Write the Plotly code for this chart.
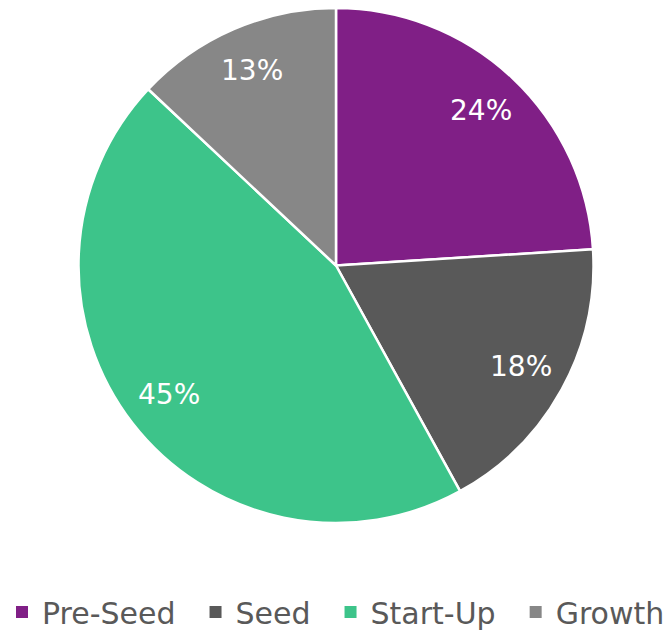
import math
import plotly.graph_objects as go

stages = ["Pre-Seed", "Seed", "Start-Up", "Growth"]
shares = [24, 18, 45, 13]
colors = ["#801f86", "#595959", "#3dc48a", "#878787"]

# figure is a bit wider than the window so the one-row legend is not wrapped
W, H, B = 700, 632, 50
PH = H - B  # plot-area height in px
# pie placement in pixels (page has an 8px body offset)
CX, CY, R = 328, 257, 258
LABEL_R = 0.83
FONT = "DejaVu Sans"

fig = go.Figure(go.Pie(
    labels=stages, values=shares,
    sort=False, direction="clockwise", rotation=0,
    marker=dict(colors=colors, line=dict(color="#ffffff", width=2.5)),
    textinfo="none", showlegend=False,
    domain=dict(x=[(CX - R) / W, (CX + R) / W], y=[1 - (CY + R) / PH, 1]),
    hoverinfo="label+percent",
))

# legend entries: plain square swatches (the pie's own swatches get eaten by the white border)
# en space after each name (but the last) widens the gap between entries
for i, (name, c) in enumerate(zip(stages, colors)):
    pad = "\u2002" if i < len(stages) - 1 else ""
    fig.add_trace(go.Scatter(
        x=[None], y=[None], mode="markers", name=name + pad,
        marker=dict(symbol="square", size=12, color=c), hoverinfo="skip",
    ))

# percent labels at a fixed fraction of the radius, on each slice's mid-angle
total = sum(shares)
cum = 0
for v in shares:
    mid = (cum + v / 2) / total * 2 * math.pi
    cum += v
    r_px = R * 0.988 * LABEL_R
    x = (CX + r_px * math.sin(mid)) / W
    y = 1 - (CY - r_px * math.cos(mid)) / PH
    fig.add_annotation(x=x, y=y, xref="paper", yref="paper",
                       xanchor="center", yanchor="middle",
                       text=f"{round(v / total * 100)}%", showarrow=False,
                       font=dict(size=28, color="#ffffff", family=FONT))

fig.update_layout(
    width=W, height=H,
    margin=dict(l=0, r=0, t=0, b=B, autoexpand=False),
    paper_bgcolor="#ffffff", plot_bgcolor="rgba(0,0,0,0)",
    xaxis=dict(visible=False), yaxis=dict(visible=False),
    showlegend=True,
    legend=dict(orientation="h", x=-6 / W, xanchor="left", y=1 - 604 / PH, yanchor="middle",
                font=dict(size=30, color="#595959", family=FONT),
                itemwidth=30, tracegroupgap=0),
)

fig.write_html("out.html")
